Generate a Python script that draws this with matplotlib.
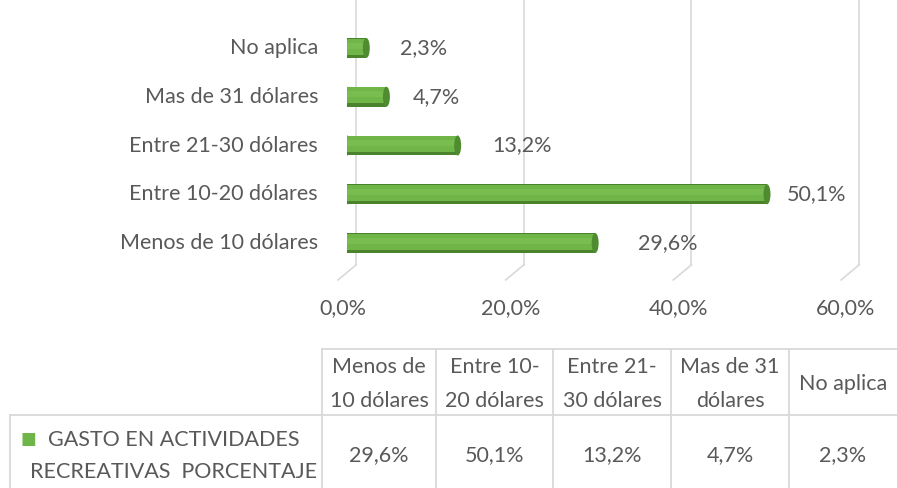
import matplotlib
matplotlib.use("Agg")
import matplotlib.pyplot as plt
from matplotlib.patches import Ellipse
from matplotlib.lines import Line2D
from matplotlib.transforms import offset_copy

categories = ["Menos de 10 dólares", "Entre 10-20 dólares", "Entre 21-30 dólares",
              "Mas de 31 dólares", "No aplica"]
values = [29.6, 50.1, 13.2, 4.7, 2.3]
header_labels = ["Menos de\n10 dólares", "Entre 10-\n20 dólares", "Entre 21-\n30 dólares",
                 "Mas de 31\ndólares", "No aplica"]
series_lines = ["GASTO EN ACTIVIDADES", "RECREATIVAS  PORCENTAJE"]
xticks = [0, 20, 40, 60]

W, H = 897, 488
FONT = "Lato"
FS = 15.5
TXT = "#595959"
GRID = "#d9d9d9"
GREEN = "#6fb547"
GREEN_DARK = "#4b832c"
GREEN_LIGHT = "#79bd51"

plt.rcParams["font.family"] = [FONT, "DejaVu Sans"]

fig = plt.figure(figsize=(W / 100, H / 100), dpi=100)


def fx(px):
    return px / W


def fy(py):
    return 1 - py / H


def pct(v):
    return f"{v:.1f}%".replace(".", ",")


# plot area: x 0..60 -> px 347..850, rows centred 243..48
ax = fig.add_axes([fx(347), fy(267.4), fx(850) - fx(347), (267.4 - 23.6) / H])
ax.set_xlim(0, 60)
ax.set_ylim(-0.5, len(categories) - 0.5)
ax.axis("off")

# back wall gridlines with floor diagonal
back = offset_copy(ax.transData, fig=fig, x=9, y=0, units="dots")
for t in xticks:
    ax.plot([t, t], [-0.45, 5.0], color=GRID, lw=1.2, transform=back, clip_on=False, zorder=0)
    x0, y0 = ax.transData.transform((t, -0.45))
    x0 += 9
    fig.add_artist(Line2D([x0 / W, (x0 - 18) / W], [y0 / H, (y0 - 15) / H],
                          color=GRID, lw=1.2, transform=fig.transFigure))

bh = 0.41
ys = list(range(len(categories)))
cap_w = 7 * 60 / 503
for y, v in zip(ys, values):
    ax.add_patch(Ellipse((0, y), cap_w, bh, facecolor=GREEN_DARK, edgecolor="none", zorder=1))
ax.barh(ys, values, height=bh, color=GREEN_DARK, edgecolor="none", zorder=2)
ax.barh([y + bh * 0.07 for y in ys], values, height=bh * 0.8, color=GREEN,
        edgecolor="none", zorder=3)
ax.barh([y + bh * 0.12 for y in ys], values, height=bh * 0.3, color=GREEN_LIGHT,
        edgecolor="none", zorder=3)
for y, v in zip(ys, values):
    ax.add_patch(Ellipse((v, y), cap_w, bh, facecolor="#4f8c2f", edgecolor="none", zorder=4))
    ax.add_patch(Ellipse((0, y + bh * 0.05), cap_w, bh * 0.85, facecolor=GREEN,
                         edgecolor="none", zorder=1.5))

label_pad = [43, 20, 35, 26, 34]
for y, v, pad in zip(ys, values, label_pad):
    ax.annotate(pct(v), (v, y), xytext=(pad * 0.72, 0),
                textcoords="offset points", ha="left", va="center",
                fontsize=FS, color=TXT)

for y, c in zip(ys, categories):
    ax.annotate(c, (0, y), xytext=(-29 * 0.72, 0), textcoords="offset points",
                ha="right", va="center", fontsize=FS, color=TXT)

for t in xticks:
    ax.annotate(pct(t), (t, -0.5), xytext=(-4 * 0.72, -41 * 0.72),
                textcoords="offset points", ha="center", va="center",
                fontsize=FS, color=TXT, annotation_clip=False)

# data table
col_edges = [322, 436, 553, 671, 789, 897]
top, mid, bot = 349, 415, 488
left = 10


def hline(x0, x1, y):
    fig.add_artist(Line2D([fx(x0), fx(x1)], [fy(y), fy(y)], color=GRID, lw=1.3))


def vline(x, y0, y1):
    fig.add_artist(Line2D([fx(x), fx(x)], [fy(y0), fy(y1)], color=GRID, lw=1.3))


hline(col_edges[0], W, top)
hline(left, W, mid)
for x in col_edges[:-1]:
    vline(x, top, bot)
vline(left, mid, bot)

for i, lab in enumerate(header_labels):
    cx = (col_edges[i] + col_edges[i + 1]) / 2
    fig.text(fx(cx), fy(384), lab, ha="center", va="center",
             fontsize=FS, color=TXT, linespacing=1.85)
    fig.text(fx(cx), fy(455), pct(values[i]),
             ha="center", va="center", fontsize=FS, color=TXT)

fig.text(fx(20), fy(439), "■", ha="left", va="center", fontsize=12, color=GREEN,
         family="DejaVu Sans")
for yy, line in zip([440, 472], series_lines):
    fig.text(fx(174), fy(yy), line, ha="center", va="center", fontsize=FS, color=TXT)

fig.savefig("out.png", dpi=100)
